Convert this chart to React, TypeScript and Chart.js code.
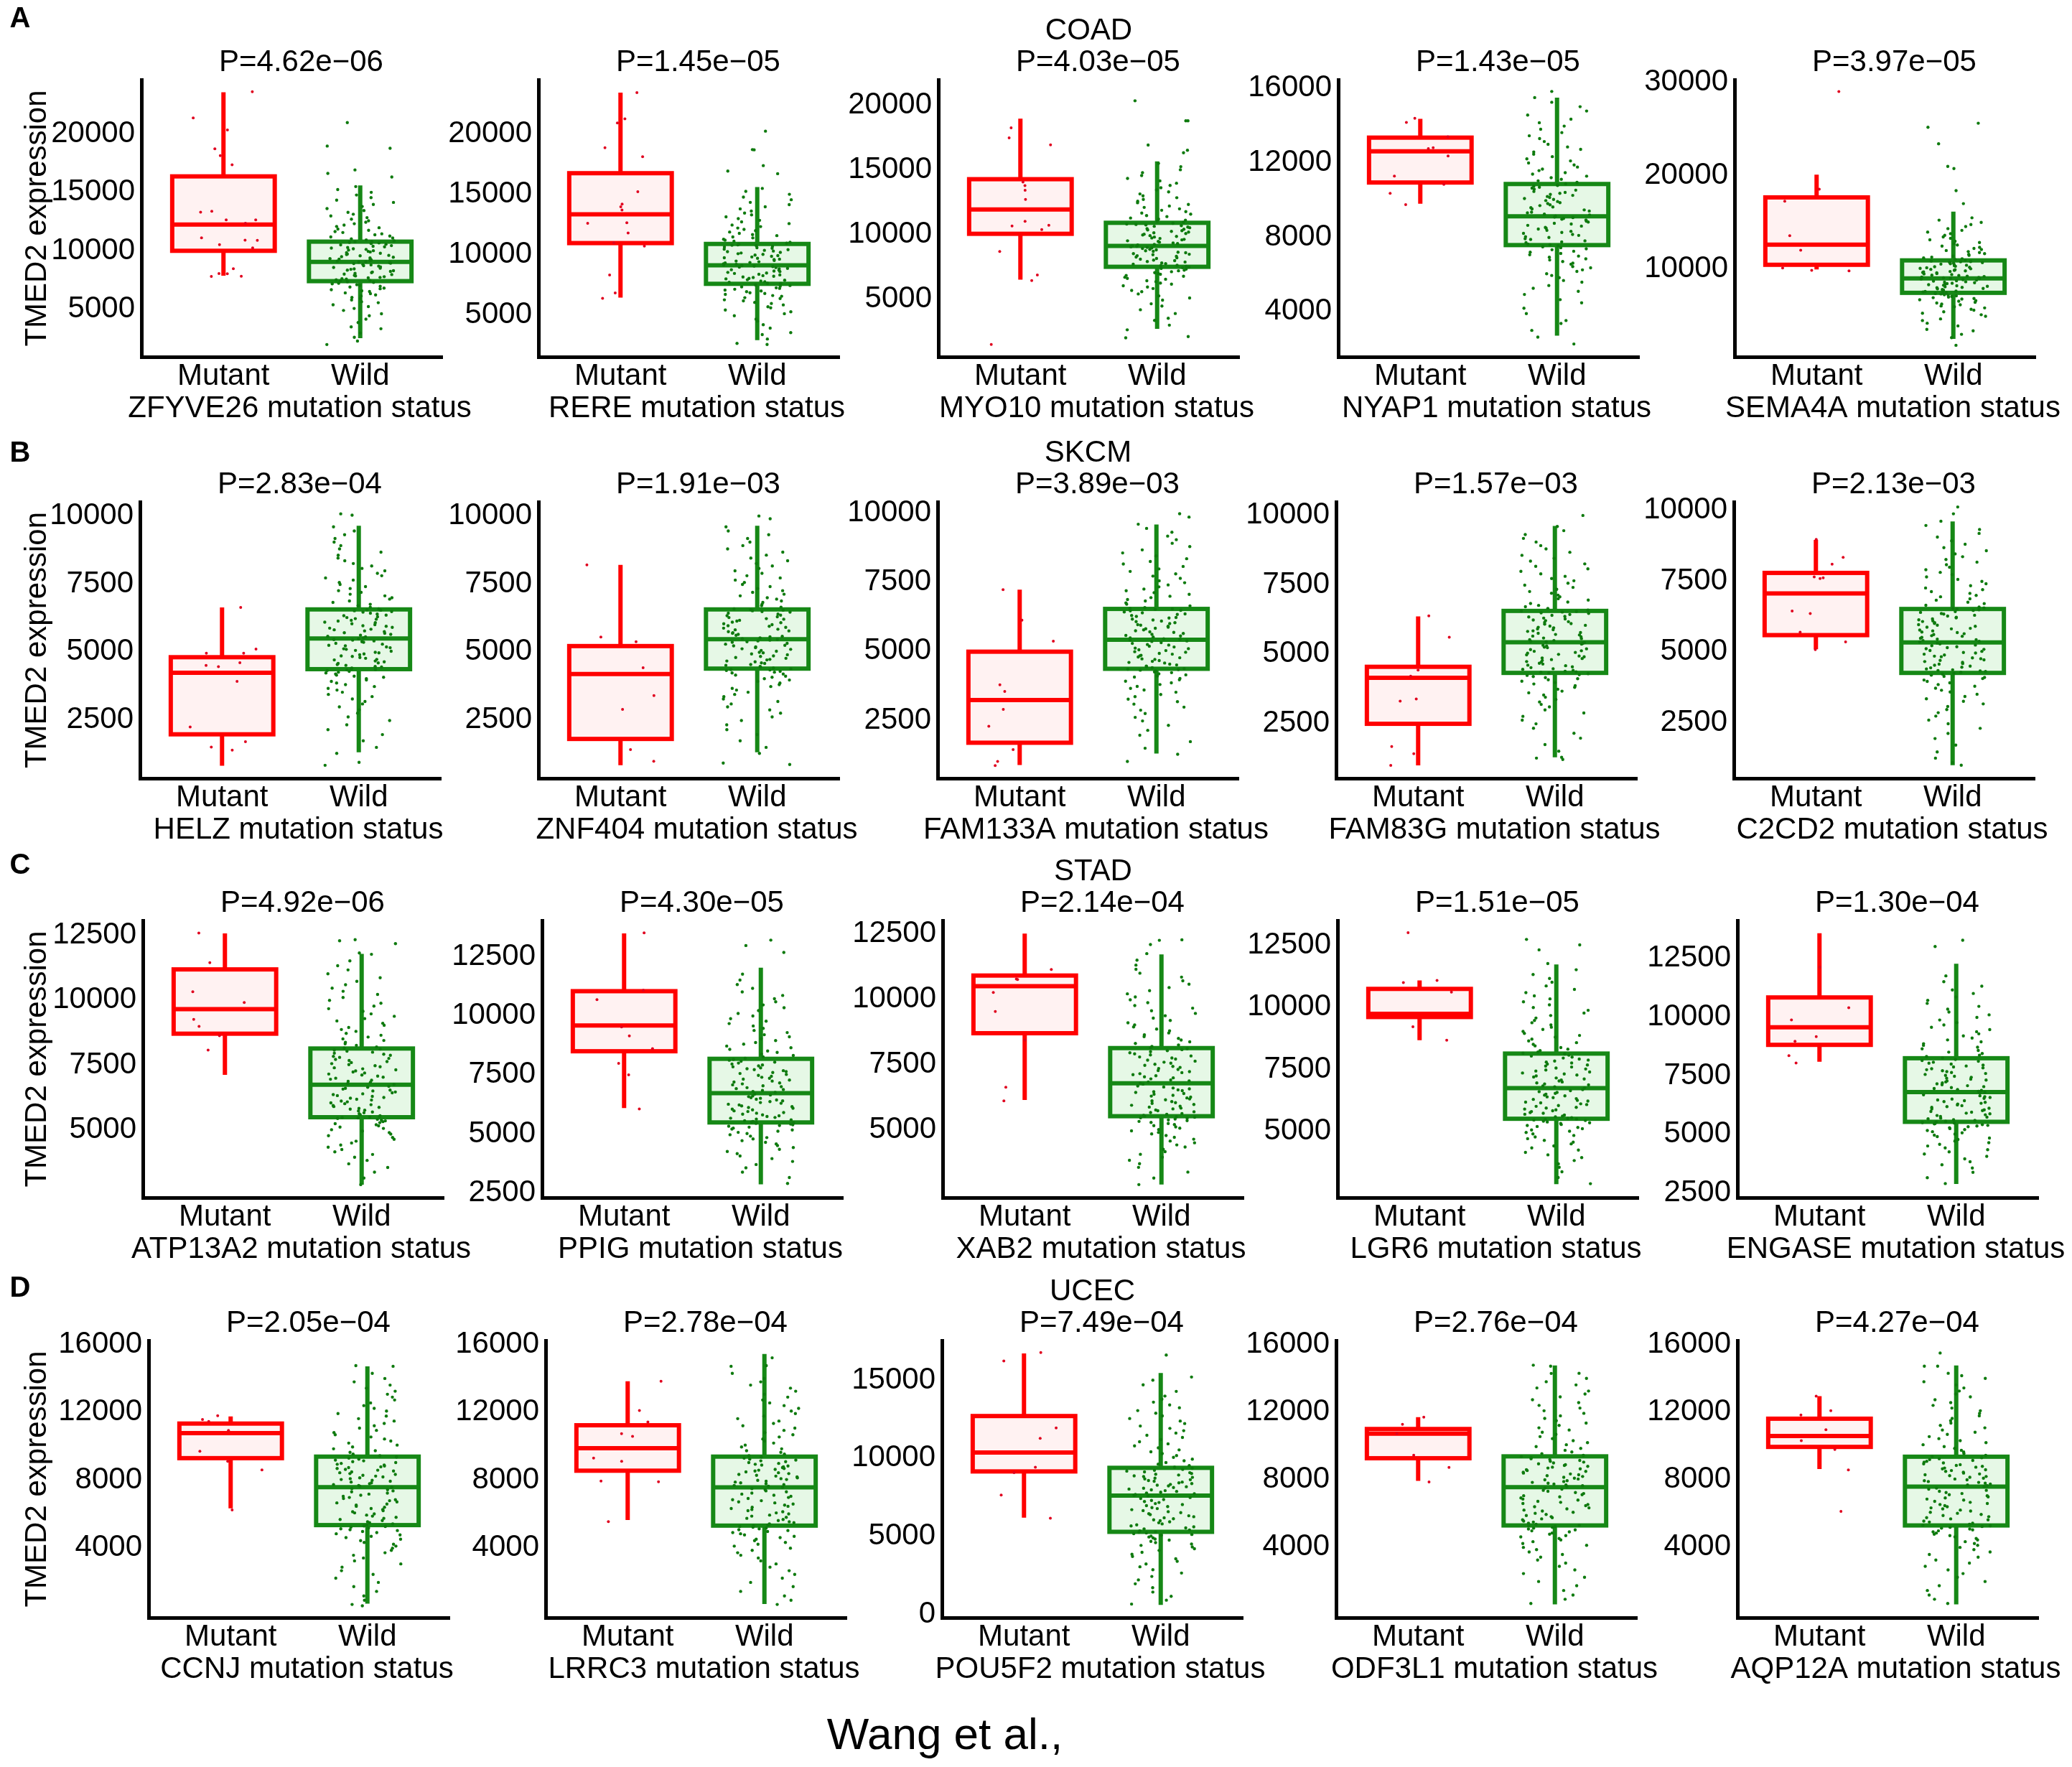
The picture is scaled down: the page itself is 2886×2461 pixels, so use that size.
import React, { useEffect, useRef } from "react";
import { Chart, registerables } from "chart.js";

Chart.register(...registerables);
Chart.defaults.font.family = "'Liberation Sans', Arial, sans-serif";
Chart.defaults.color = "#000";

// ---------------- DATA ----------------
const CANCERS = ["COAD", "SKCM", "STAD", "UCEC"];
const PANEL_LETTERS = ["A", "B", "C", "D"];
const GROUPS = ["Mutant", "Wild"];
const GROUP_POS = [1, 2];
const Y_TITLE = "TMED2 expression";
const X_TITLE_SUFFIX = " mutation status";
const FOOTER = "Wang et al.,";

const GENES = [
  ["ZFYVE26", "RERE", "MYO10", "NYAP1", "SEMA4A"],
  ["HELZ", "ZNF404", "FAM133A", "FAM83G", "C2CD2"],
  ["ATP13A2", "PPIG", "XAB2", "LGR6", "ENGASE"],
  ["CCNJ", "LRRC3", "POU5F2", "ODF3L1", "AQP12A"],
];

const P_VALUES = [
  ["4.62e-06", "1.45e-05", "4.03e-05", "1.43e-05", "3.97e-05"],
  ["2.83e-04", "1.91e-03", "3.89e-03", "1.57e-03", "2.13e-03"],
  ["4.92e-06", "4.30e-05", "2.14e-04", "1.51e-05", "1.30e-04"],
  ["2.05e-04", "2.78e-04", "7.49e-04", "2.76e-04", "4.27e-04"],
];

const Y_MIN = [
  [950, 1500, 530, 1560, 560],
  [340, 340, 390, 500, 550],
  [2400, 2300, 2400, 2340, 2300],
  [-130, -130, -220, -190, -190],
];
const Y_MAX = [
  [24600, 24500, 21950, 16440, 30300],
  [10520, 10520, 10410, 10490, 10280],
  [13050, 14020, 13020, 13480, 14110],
  [16220, 16220, 17540, 16220, 16220],
];

const T_A = [5000, 10000, 15000, 20000];
const T_A4 = [4000, 8000, 12000, 16000];
const T_A5 = [10000, 20000, 30000];
const T_B = [2500, 5000, 7500, 10000];
const T_C = [5000, 7500, 10000, 12500];
const T_C2 = [2500, 5000, 7500, 10000, 12500];
const T_D = [4000, 8000, 12000, 16000];
const T_D3 = [0, 5000, 10000, 15000];
const Y_TICKS = [
  [T_A, T_A, T_A, T_A4, T_A5],
  [T_B, T_B, T_B, T_B, T_B],
  [T_C, T_C2, T_C, T_C, T_C2],
  [T_D, T_D, T_D3, T_D, T_D],
];

// box statistics: [lower whisker, Q1, median, Q3, upper whisker]
const MUT_STATS = [
  [[7880, 10000, 12240, 16350, 23530], [6420, 10940, 13330, 16740, 23430], [6490, 10040, 11920, 14260, 18940], [9780, 10920, 12590, 13330, 14340], [9940, 10440, 12600, 17670, 20120]],
  [[800, 1960, 4230, 4800, 6630], [820, 1790, 4180, 5210, 8200], [870, 1680, 3230, 4980, 7230], [970, 2470, 4130, 4530, 6350], [5090, 5590, 7060, 7780, 8940]],
  [[7120, 8700, 9640, 11170, 12550], [6090, 8490, 9580, 11030, 13470], [6140, 8700, 10500, 10910, 12520], [8670, 9600, 9730, 10730, 11070], [8090, 8810, 9560, 10830, 13570]],
  [[6320, 9280, 10760, 11320, 11740], [5630, 8540, 9870, 11220, 13820], [6190, 9150, 10360, 12700, 16710], [7910, 9250, 10700, 10980, 11680], [8610, 9920, 10570, 11590, 12930]],
];
const WILD_STATS = [
  [[2540, 7410, 9060, 10780, 15580], [2880, 7560, 9090, 10870, 15590], [2700, 7490, 9110, 10890, 15640], [2700, 7560, 9110, 10840, 15480], [2480, 7430, 8970, 10910, 16140]],
  [[1300, 4360, 5490, 6560, 9640], [1300, 4380, 5460, 6560, 9640], [1290, 4360, 5410, 6530, 9590], [1260, 4310, 5420, 6550, 9620], [1010, 4260, 5330, 6510, 9590]],
  [[2900, 5490, 6740, 8130, 11770], [2860, 5480, 6720, 8170, 12020], [2900, 5520, 6780, 8130, 11720], [2880, 5510, 6740, 8130, 11710], [2880, 5530, 6800, 8240, 12270]],
  [[700, 5330, 7570, 9370, 14700], [670, 5300, 7560, 9370, 15430], [600, 5280, 7600, 9380, 15460], [600, 5270, 7540, 9360, 14740], [600, 5270, 7570, 9340, 14740]],
];

// individual mutant samples
const MUT_POINTS = [
  [
    [23580, 21340, 20310, 18710, 18120, 17340, 13290, 13370, 12640, 12630, 12350, 11110, 10890, 10900, 10520, 10240, 8050, 8470, 7810, 7820, 8040],
    [23430, 21260, 20910, 18860, 18110, 15210, 13950, 14180, 13680, 12580, 12630, 11780, 10980, 10690, 8290, 6800, 6350],
    [1490, 18230, 17450, 16920, 14040, 13400, 13770, 12700, 11000, 10640, 10700, 10360, 8680, 6850, 6430],
    [14370, 14150, 13380, 12740, 12340, 12790, 11260, 10820, 10340, 9730],
    [29030, 18560, 17260, 13570, 12010, 9790, 9850, 10090],
  ],
  [
    [6630, 5100, 4950, 4950, 4500, 4600, 4450, 3910, 2230, 1490, 1690, 1380],
    [8200, 5540, 5370, 4410, 3390, 2880, 1400, 970],
    [7230, 6120, 5360, 3780, 3540, 2890, 2280, 1430, 1000, 850],
    [6370, 5600, 4410, 4190, 3370, 3290, 1650, 1390, 970],
    [8960, 8330, 8090, 7610, 7640, 7580, 6440, 6350, 5690, 5080, 5350],
  ],
  [
    [12570, 11430, 10310, 9900, 9250, 8980, 8620, 8070],
    [13500, 11070, 10670, 9520, 9140, 8600, 7980, 7490, 6050],
    [11140, 10780, 10760, 10260, 9530, 8440, 6630, 6110],
    [12990, 11070, 10600, 10980, 9210, 8670],
    [12120, 10390, 9870, 9160, 8960, 8350, 8040],
  ],
  [
    [11780, 11560, 11440, 10910, 9690, 9090, 8590, 6220],
    [13820, 12090, 11410, 10570, 10720, 9280, 9090, 7930, 7890, 5540],
    [16770, 16230, 11940, 11270, 9420, 9070, 7640, 6150],
    [11680, 11260, 10700, 9430, 8710, 7850],
    [12930, 12060, 10940, 11810, 10290, 9770, 8560, 6100],
  ],
];

// wild-type samples shared by every panel of one cancer type
const COAD_WILD = [
  2620, 2980, 3350, 3510, 3880, 4170, 4460, 4630, 4910, 5080, 5240, 5390, 5570, 5660, 5810, 5930, 6020, 6150, 6230, 6340,
  6410, 6530, 6590, 6680, 6760, 6820, 6910, 6970, 7040, 7110, 7180, 7230, 7310, 7360, 7420,
  7470, 7520, 7580, 7610, 7690, 7730, 7790, 7860, 7900, 7970, 8010, 8080, 8130, 8190, 8240, 8300, 8350, 8420, 8460, 8510,
  8580, 8620, 8690, 8730, 8800, 8840, 8910, 8950, 8990, 9040, 9070, 9120, 9180, 9220, 9290, 9330, 9390, 9450, 9500, 9570,
  9610, 9680, 9720, 9790, 9840, 9900, 9950, 10010, 10060, 10120, 10170, 10230, 10280, 10340, 10390, 10440, 10510, 10560,
  10620, 10670, 10720, 10760, 10790,
  10850, 10930, 11010, 11090, 11180, 11260, 11370, 11450, 11560, 11640, 11750, 11860, 11970, 12080, 12190, 12310, 12440,
  12560, 12700, 12830, 12970, 13120, 13280, 13430, 13600, 13780, 13950, 14130, 14320, 14540, 14760, 14990, 15230, 15480,
];
const SKCM_WILD = [
  1260, 1480, 1720, 1950, 2130, 2310, 2470, 2600, 2740, 2860, 2970, 3080, 3170, 3260, 3350, 3430, 3510, 3590, 3650, 3720,
  3790, 3850, 3910, 3960, 4010, 4060, 4100, 4140, 4180, 4220, 4250, 4280, 4310, 4330, 4345,
  4370, 4400, 4440, 4460, 4500, 4530, 4570, 4590, 4630, 4660, 4700, 4720, 4760, 4790, 4830, 4850, 4890, 4920, 4960, 4980,
  5020, 5050, 5090, 5110, 5150, 5180, 5220, 5240, 5280, 5310, 5350, 5370, 5400, 5430, 5450,
  5480, 5510, 5550, 5570, 5610, 5640, 5680, 5700, 5740, 5770, 5810, 5830, 5870, 5900, 5940, 5960, 6000, 6030, 6070, 6090,
  6130, 6160, 6200, 6220, 6260, 6290, 6330, 6350, 6390, 6420, 6460, 6480, 6510, 6530, 6545,
  6580, 6640, 6700, 6750, 6820, 6870, 6940, 6990, 7060, 7120, 7190, 7250, 7330, 7400, 7480, 7550, 7640, 7720, 7800, 7890,
  7980, 8070, 8160, 8250, 8350, 8450, 8560, 8670, 8790, 8910, 9040, 9170, 9310, 9450, 9600,
];
const STAD_WILD = [
  2900, 3150, 3380, 3560, 3700, 3830, 3950, 4060, 4160, 4250, 4340, 4420, 4500, 4570, 4640, 4710, 4780, 4840, 4900, 4960,
  5010, 5060, 5110, 5160, 5200, 5240, 5280, 5320, 5350, 5380, 5410, 5440, 5460, 5480, 5495,
  5520, 5550, 5590, 5620, 5660, 5690, 5730, 5760, 5800, 5830, 5870, 5900, 5940, 5970, 6010, 6040, 6080, 6110, 6150, 6180,
  6220, 6250, 6290, 6320, 6360, 6390, 6430, 6460, 6500, 6530, 6570, 6600, 6640, 6680, 6750,
  6790, 6830, 6870, 6910, 6950, 6990, 7030, 7070, 7110, 7150, 7190, 7230, 7270, 7310, 7350, 7390, 7430, 7470, 7510, 7550,
  7590, 7630, 7670, 7710, 7750, 7790, 7830, 7870, 7910, 7950, 7990, 8030, 8070, 8110, 8145,
  8190, 8250, 8310, 8370, 8440, 8500, 8570, 8640, 8710, 8790, 8860, 8940, 9020, 9100, 9190, 9280, 9370, 9460, 9560, 9660,
  9760, 9870, 9980, 10090, 10210, 10330, 10450, 10580, 10710, 10850, 11000, 11150, 11310, 11500, 11750,
];
const UCEC_WILD = [
  650, 900, 1150, 1420, 1700, 1950, 2200, 2420, 2640, 2850, 3040, 3220, 3390, 3550, 3700, 3840, 3970, 4090, 4200, 4310,
  4410, 4500, 4590, 4670, 4750, 4820, 4890, 4950, 5010, 5060, 5110, 5160, 5210, 5250, 5280,
  5340, 5400, 5470, 5530, 5600, 5660, 5730, 5790, 5860, 5920, 5990, 6050, 6120, 6180, 6250, 6310, 6380, 6440, 6510, 6570,
  6640, 6700, 6770, 6830, 6900, 6960, 7030, 7090, 7160, 7220, 7290, 7350, 7420, 7480, 7570,
  7620, 7670, 7720, 7770, 7820, 7870, 7920, 7970, 8020, 8070, 8120, 8170, 8220, 8270, 8320, 8370, 8420, 8470, 8520, 8570,
  8620, 8670, 8720, 8770, 8820, 8870, 8920, 8970, 9020, 9070, 9120, 9170, 9220, 9280, 9350,
  9420, 9520, 9620, 9720, 9830, 9940, 10050, 10170, 10290, 10410, 10530, 10660, 10790, 10920, 11050, 11190, 11330, 11470,
  11610, 11760, 11910, 12060, 12220, 12380, 12540, 12710, 12880, 13050, 13230, 13410, 13590, 13780, 13980, 14280, 14700,
];
const WILD_BULK = [COAD_WILD, SKCM_WILD, STAD_WILD, UCEC_WILD];

// wild-type samples outside the shared cloud, per panel
const WILD_EXTRA = [
  [
    [20940, 18940, 18750, 16600, 16900, 16300, 2000, 2300],
    [20230, 18680, 18700, 17370, 16920, 16700, 2530],
    [20320, 18770, 18770, 16900, 16500, 16300, 2100, 2000],
    [15810, 2250],
    [25630, 25200, 23420, 20770, 21000, 18400, 17000, 1800],
  ],
  [
    [10030, 10080, 820, 930],
    [10000, 9900, 850, 900],
    [9860, 9980, 1000],
    [10000, 1230, 1180],
    [9860, 10100, 1010, 1100],
  ],
  [
    [12310, 12270, 12160, 11800],
    [13190, 12670, 12960],
    [12280, 12260, 12100],
    [12720, 12500, 12300],
    [13270, 13000],
  ],
  [
    [14740, 570],
    [15200, 14740],
    [16610, 15200, 15000],
    [14760, 14270],
    [15480, 14140, 14700],
  ],
];

// ---------------- LAYOUT / STYLE ----------------
const ROW_TOP = [111, 699, 1282, 1867];
const ROW_BOTTOM = [497, 1084, 1668, 2253];
const COL_LEFT = [
  [197, 750, 1307, 1864, 2416],
  [195, 750, 1306, 1861, 2415],
  [199, 755, 1313, 1863, 2420],
  [207, 760, 1312, 1861, 2420],
];
const LETTER_POS = [[28, 27], [28, 632], [28, 1206], [28, 1795]];
const PLOT_W = 419;
const TOP_PAD = 112;
const RIGHT_PAD = 80;
const X_BOX_H = 100;
const FONT = "'Liberation Sans', Arial, sans-serif";
const FS = 42;
const BOX_HALF = 0.375;
const JITTER_HALF = 0.25;
const LINE_W = 6;
const RED = "#FF0000";
const RED_FILL = "#FFF2F2";
const RED_PT = "#E0001E";
const GREEN = "#168816";
const GREEN_FILL = "#E6F8E6";
const GREEN_PT = "#0E7A0E";

function jitter(i: number, seed: number) {
  const s = Math.sin((i + 1) * 12.9898 + seed * 78.233) * 43758.5453;
  return (s - Math.floor(s) - 0.5) * 2 * JITTER_HALF;
}

function Panel({ r, c }: { r: number; c: number }) {
  const ref = useRef<HTMLCanvasElement>(null);
  const L = COL_LEFT[r][c];
  const T = ROW_TOP[r];
  const B = ROW_BOTTOM[r];
  const YW = c === 0 ? L : 160;
  const left = L - YW;
  const top = T - TOP_PAD;
  const width = YW + PLOT_W + RIGHT_PAD;
  const height = TOP_PAD + (B - T) + X_BOX_H;

  useEffect(() => {
    const seed = r * 10 + c;
    const mut = MUT_POINTS[r][c].map((y, i) => ({ x: GROUP_POS[0] + jitter(i, seed), y }));
    const wildVals = WILD_BULK[r].concat(WILD_EXTRA[r][c]);
    const wild = wildVals.map((y, i) => ({ x: GROUP_POS[1] + jitter(i, seed + 137), y }));
    const boxes = [
      { pos: GROUP_POS[0], stats: MUT_STATS[r][c], color: RED, fill: RED_FILL },
      { pos: GROUP_POS[1], stats: WILD_STATS[r][c], color: GREEN, fill: GREEN_FILL },
    ];

    const boxplotPlugin = {
      id: "boxplotDraw",
      beforeDatasetsDraw(chart: any) {
        const { ctx } = chart;
        const xs = chart.scales.x;
        const ys = chart.scales.y;
        boxes.forEach((b) => {
          const xc = xs.getPixelForValue(b.pos);
          const x0 = xs.getPixelForValue(b.pos - BOX_HALF);
          const x1 = xs.getPixelForValue(b.pos + BOX_HALF);
          const [mn, q1, md, q3, mx] = b.stats.map((v: number) => ys.getPixelForValue(v));
          ctx.save();
          ctx.strokeStyle = b.color;
          ctx.lineWidth = LINE_W;
          ctx.lineJoin = "miter";
          ctx.beginPath();
          ctx.moveTo(xc, q3);
          ctx.lineTo(xc, mx);
          ctx.moveTo(xc, q1);
          ctx.lineTo(xc, mn);
          ctx.stroke();
          ctx.fillStyle = b.fill;
          ctx.fillRect(x0, q3, x1 - x0, q1 - q3);
          ctx.strokeRect(x0, q3, x1 - x0, q1 - q3);
          ctx.beginPath();
          ctx.moveTo(x0, md);
          ctx.lineTo(x1, md);
          ctx.stroke();
          ctx.restore();
        });
      },
    };

    const textPlugin = {
      id: "panelText",
      afterDraw(chart: any) {
        const { ctx, chartArea } = chart;
        const cx = (chartArea.left + chartArea.right) / 2;
        ctx.save();
        ctx.fillStyle = "#000";
        ctx.textAlign = "center";
        ctx.textBaseline = "middle";
        ctx.font = `${FS}px ${FONT}`;
        ctx.fillText("P=" + P_VALUES[r][c].replace("-", "\u2212"), cx + 13, chartArea.top - 24);
        ctx.fillText(GENES[r][c] + X_TITLE_SUFFIX, cx + 11, chartArea.bottom + 72);
        if (c === 2) ctx.fillText(CANCERS[r], cx, chartArea.top - 68);
        if (c === 0) {
          ctx.font = `bold 40px ${FONT}`;
          ctx.fillText(PANEL_LETTERS[r], LETTER_POS[r][0] - left, LETTER_POS[r][1] - top);
        }
        ctx.restore();
      },
    };

    const chart = new Chart(ref.current as HTMLCanvasElement, {
      type: "scatter",
      data: {
        datasets: [
          { data: mut, backgroundColor: RED_PT, pointRadius: 2, pointHoverRadius: 2, borderWidth: 0 },
          { data: wild, backgroundColor: GREEN_PT, pointRadius: 2.2, pointHoverRadius: 2.2, borderWidth: 0 },
        ],
      },
      options: {
        animation: false,
        responsive: false,
        maintainAspectRatio: false,
        devicePixelRatio: 1,
        events: [],
        layout: { padding: { top: TOP_PAD, right: RIGHT_PAD, left: 0, bottom: 0 } },
        plugins: { legend: { display: false }, tooltip: { enabled: false }, title: { display: false } },
        scales: {
          x: {
            type: "linear",
            min: 0.4,
            max: 2.6,
            grid: { display: false, drawTicks: false },
            border: { display: true, color: "#000", width: 5 },
            ticks: {
              color: "#000",
              font: { size: FS, family: FONT },
              padding: 2,
              autoSkip: false,
              maxRotation: 0,
              callback: (v: any) => GROUPS[GROUP_POS.indexOf(Math.round(Number(v)))] ?? "",
            },
            afterBuildTicks: (s: any) => {
              s.ticks = GROUP_POS.map((v) => ({ value: v }));
            },
            afterFit: (s: any) => {
              s.height = X_BOX_H;
            },
            title: { display: false },
          },
          y: {
            type: "linear",
            min: Y_MIN[r][c],
            max: Y_MAX[r][c],
            grid: { display: false, drawTicks: false },
            border: { display: true, color: "#000", width: 5 },
            ticks: {
              color: "#000",
              font: { size: FS, family: FONT },
              padding: 9,
              autoSkip: false,
              callback: (v: any) => String(v),
            },
            afterBuildTicks: (s: any) => {
              s.ticks = Y_TICKS[r][c].map((v) => ({ value: v }));
            },
            afterFit: (s: any) => {
              s.width = YW;
            },
            title: {
              display: c === 0,
              text: Y_TITLE,
              color: "#000",
              font: { size: FS, family: FONT },
              padding: { top: 27, bottom: 0 },
            },
          },
        },
      },
      plugins: [boxplotPlugin, textPlugin],
    } as any);
    return () => chart.destroy();
  }, []);

  return (
    <canvas
      ref={ref}
      width={width}
      height={height}
      style={{ position: "absolute", left, top, width, height, display: "block" }}
    />
  );
}

export default function App() {
  const panels = [];
  for (let r = 0; r < 4; r++) for (let c = 0; c < 5; c++) panels.push(<Panel key={`${r}-${c}`} r={r} c={c} />);
  return (
    <div style={{ position: "absolute", left: 0, top: 0, width: 2886, height: 2461, background: "#fff", overflow: "hidden" }}>
      {panels}
      <div
        style={{
          position: "absolute",
          left: 1316 - 400,
          width: 800,
          top: 2384,
          textAlign: "center",
          fontFamily: FONT,
          fontSize: 62,
          lineHeight: "62px",
          color: "#000",
        }}
      >
        {FOOTER}
      </div>
    </div>
  );
}
